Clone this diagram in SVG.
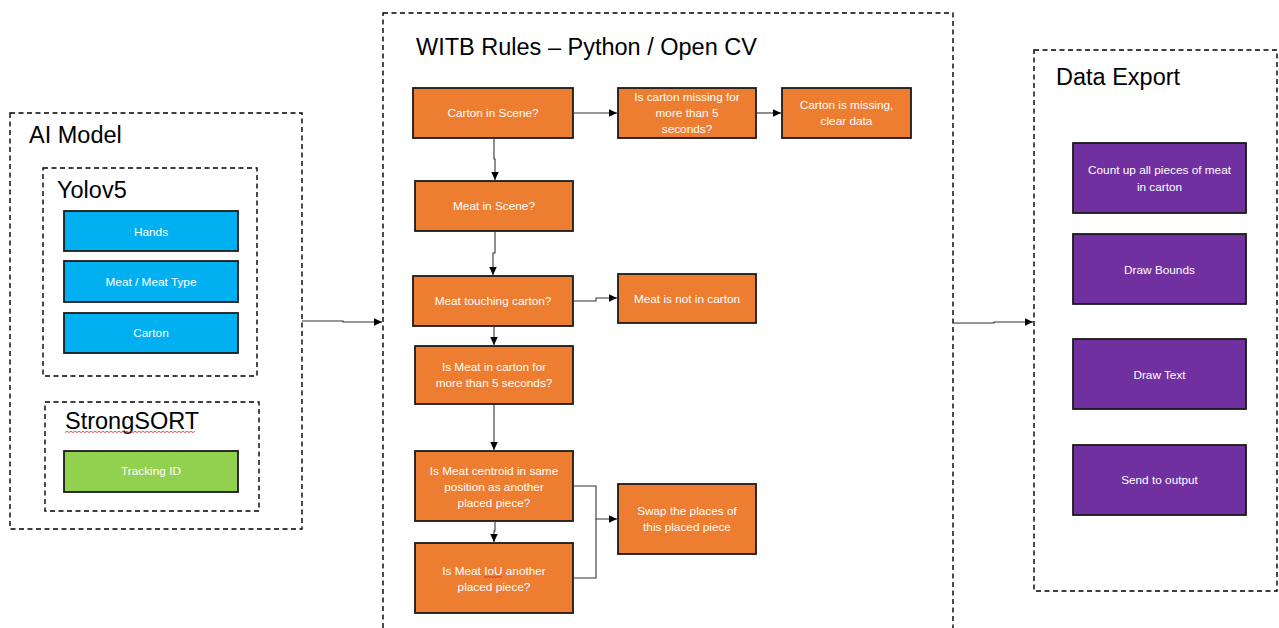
<svg xmlns="http://www.w3.org/2000/svg" width="1279" height="628" viewBox="0 0 1279 628">
  <style>
    .panel { fill: none; stroke: #000; stroke-width: 1.4; stroke-dasharray: 5 3.5; }
    .title { font-family: "Liberation Sans", Arial, sans-serif; font-size: 23.5px; fill: #000; }
    .box { stroke: #1a1a1a; stroke-width: 1.8; }
    .orange { fill: #ED7D31; }
    .blue { fill: #00B0F0; }
    .green { fill: #92D050; }
    .purple { fill: #7030A0; }
    .label { font-family: "Liberation Sans", Arial, sans-serif; font-size: 11.8px; fill: #ffffff; text-anchor: middle; dominant-baseline: central; }
    .wire { fill: none; stroke: #333; stroke-width: 1.1; }
    .squiggle { fill: none; stroke: #e02020; stroke-width: 0.8; }
  </style>
  <defs>
    <marker id="arrow" markerUnits="userSpaceOnUse" markerWidth="9" markerHeight="8" refX="8.5" refY="4" orient="auto">
      <path d="M0,0 L8.5,4 L0,8 z" fill="#000"/>
    </marker>
  </defs>
  <rect width="1279" height="628" fill="#fff"/>

  <!-- AI Model panel -->
  <g id="ai-model">
    <rect class="panel" x="10" y="113" width="292" height="416"/>
    <text class="title" x="29" y="143">AI Model</text>
  </g>
  <g id="yolov5">
    <rect class="panel" x="43" y="168" width="214" height="208"/>
    <text class="title" x="57" y="198">Yolov5</text>
  </g>
  <g id="hands">
    <rect class="box blue" x="64" y="211" width="174" height="40"/>
    <text class="label" x="151" y="231.5">Hands</text>
  </g>
  <g id="meat-type">
    <rect class="box blue" x="64" y="261" width="174" height="41"/>
    <text class="label" x="151" y="282">Meat / Meat Type</text>
  </g>
  <g id="carton">
    <rect class="box blue" x="64" y="313" width="174" height="40"/>
    <text class="label" x="151" y="333">Carton</text>
  </g>
  <g id="strongsort">
    <rect class="panel" x="45" y="402" width="214" height="109"/>
    <text class="title" x="65" y="429">StrongSORT</text>
    <!-- spell-check underline -->
    <path class="squiggle" d="M65,432.5 l2,-1.2 l2,1.2 l2,-1.2 l2,1.2 l2,-1.2 l2,1.2 l2,-1.2 l2,1.2 l2,-1.2 l2,1.2 l2,-1.2 l2,1.2 l2,-1.2 l2,1.2 l2,-1.2 l2,1.2 l2,-1.2 l2,1.2 l2,-1.2 l2,1.2 l2,-1.2 l2,1.2 l2,-1.2 l2,1.2 l2,-1.2 l2,1.2 l2,-1.2 l2,1.2 l2,-1.2 l2,1.2 l2,-1.2 l2,1.2 l2,-1.2 l2,1.2 l2,-1.2 l2,1.2 l2,-1.2 l2,1.2 l2,-1.2 l2,1.2 l2,-1.2 l2,1.2 l2,-1.2 l2,1.2 l2,-1.2 l2,1.2 l2,-1.2 l2,1.2 l2,-1.2 l2,1.2 l2,-1.2 l2,1.2 l2,-1.2 l2,1.2 l2,-1.2 l2,1.2 l2,-1.2 l2,1.2 l2,-1.2 l2,1.2 l2,-1.2 l2,1.2 l2,-1.2 l2,1.2 l2,-1.2"/>
  </g>
  <g id="tracking-id">
    <rect class="box green" x="64" y="451" width="174" height="41"/>
    <text class="label" x="151" y="471">Tracking ID</text>
  </g>

  <!-- WITB rules panel -->
  <g id="witb-rules">
    <rect class="panel" x="383" y="13" width="570" height="630"/>
    <text class="title" x="416" y="55">WITB Rules – Python / Open CV</text>
  </g>
  <g id="carton-in-scene">
    <rect class="box orange" x="413" y="88" width="160" height="50"/>
    <text class="label" x="493" y="113">Carton in Scene?</text>
  </g>
  <g id="carton-missing-check">
    <rect class="box orange" x="618" y="88" width="138" height="50"/>
    <text class="label" x="687" y="97">Is carton missing for</text>
    <text class="label" x="687" y="113">more than 5</text>
    <text class="label" x="687" y="129">seconds?</text>
  </g>
  <g id="carton-missing">
    <rect class="box orange" x="782" y="88" width="129" height="50"/>
    <text class="label" x="846.5" y="105">Carton is missing,</text>
    <text class="label" x="846.5" y="121">clear data</text>
  </g>
  <g id="meat-in-scene">
    <rect class="box orange" x="415" y="181" width="158" height="50"/>
    <text class="label" x="494" y="206">Meat in Scene?</text>
  </g>
  <g id="meat-touching">
    <rect class="box orange" x="413" y="276" width="160" height="50"/>
    <text class="label" x="493" y="301">Meat touching carton?</text>
  </g>
  <g id="meat-not-in-carton">
    <rect class="box orange" x="618" y="274" width="138" height="49"/>
    <text class="label" x="687" y="298.5">Meat is not in carton</text>
  </g>
  <g id="meat-in-carton-time">
    <rect class="box orange" x="415" y="346" width="158" height="58"/>
    <text class="label" x="494" y="367">Is Meat in carton for</text>
    <text class="label" x="494" y="383">more than 5 seconds?</text>
  </g>
  <g id="centroid-check">
    <rect class="box orange" x="415" y="451" width="158" height="70"/>
    <text class="label" x="494" y="470.5">Is Meat centroid in same</text>
    <text class="label" x="494" y="486.5">position as another</text>
    <text class="label" x="494" y="502.5">placed piece?</text>
  </g>
  <g id="iou-check">
    <rect class="box orange" x="415" y="543" width="158" height="70"/>
    <text class="label" x="494" y="570.5">Is Meat IoU another</text>
    <text class="label" x="494" y="586.5">placed piece?</text>
    <path class="squiggle" d="M484,577.5 l1.5,-1 l1.5,1 l1.5,-1 l1.5,1 l1.5,-1 l1.5,1 l1.5,-1 l1.5,1 l1.5,-1 l1.5,1 l1.5,-1 l1.5,1"/>
  </g>
  <g id="swap-places">
    <rect class="box orange" x="618" y="484" width="138" height="70"/>
    <text class="label" x="687" y="511">Swap the places of</text>
    <text class="label" x="687" y="527">this placed piece</text>
  </g>

  <!-- Data export panel -->
  <g id="data-export">
    <rect class="panel" x="1034" y="50" width="243" height="541"/>
    <text class="title" x="1056" y="85">Data Export</text>
  </g>
  <g id="count-pieces">
    <rect class="box purple" x="1073" y="143" width="173" height="70"/>
    <text class="label" x="1159.5" y="170">Count up all pieces of meat</text>
    <text class="label" x="1159.5" y="186.5">in carton</text>
  </g>
  <g id="draw-bounds">
    <rect class="box purple" x="1073" y="234" width="173" height="70"/>
    <text class="label" x="1159.5" y="269.5">Draw Bounds</text>
  </g>
  <g id="draw-text">
    <rect class="box purple" x="1073" y="339" width="173" height="70"/>
    <text class="label" x="1159.5" y="374.5">Draw Text</text>
  </g>
  <g id="send-output">
    <rect class="box purple" x="1073" y="445" width="173" height="70"/>
    <text class="label" x="1159.5" y="480">Send to output</text>
  </g>

  <!-- Connectors -->
  <g id="connectors">
    <path class="wire" d="M302,321 H343 V322 H382" marker-end="url(#arrow)"/>
    <path class="wire" d="M573,113 H617" marker-end="url(#arrow)"/>
    <path class="wire" d="M756,113 H781" marker-end="url(#arrow)"/>
    <path class="wire" d="M494,138 V159 H495 V180" marker-end="url(#arrow)"/>
    <path class="wire" d="M495,231 V253 H493 V275" marker-end="url(#arrow)"/>
    <path class="wire" d="M573,301 H596 V298 H617" marker-end="url(#arrow)"/>
    <path class="wire" d="M494,326 V345" marker-end="url(#arrow)"/>
    <path class="wire" d="M494,404 V450" marker-end="url(#arrow)"/>
    <path class="wire" d="M495,521 V531 H494 V542" marker-end="url(#arrow)"/>
    <path class="wire" d="M573,486 H596 V519 H617" marker-end="url(#arrow)"/>
    <path class="wire" d="M573,578 H596 V519"/>
    <path class="wire" d="M953,323 H994 V322 H1033" marker-end="url(#arrow)"/>
  </g>
</svg>
